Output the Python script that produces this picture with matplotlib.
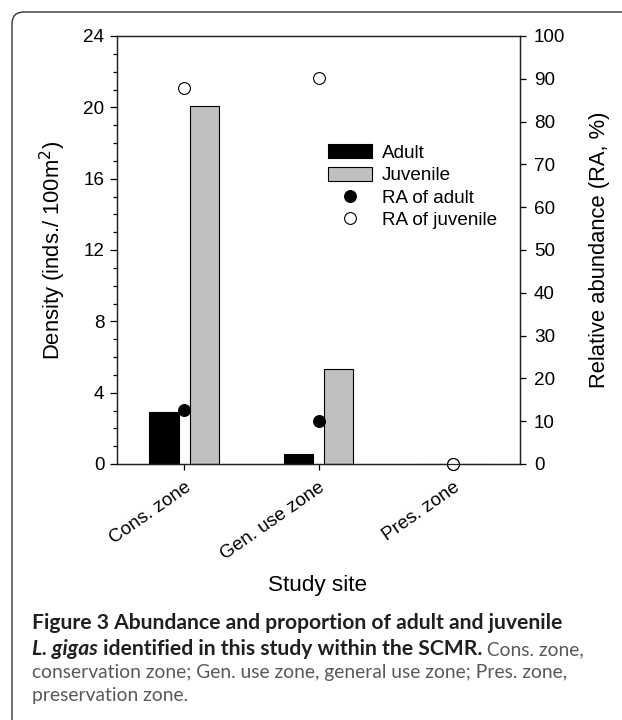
import numpy as np
import matplotlib
matplotlib.use('Agg')
import matplotlib.pyplot as plt
from matplotlib.patches import FancyBboxPatch, Patch
from matplotlib.lines import Line2D
from matplotlib.transforms import IdentityTransform

plt.rcParams['font.family'] = ['Liberation Sans', 'DejaVu Sans']

# data
sites = ['Cons. zone', 'Gen. use zone', 'Pres. zone']
adult_density = [2.9, 0.58, 0.0]
juvenile_density = [20.1, 5.3, 0.0]
ra_adult = [12.6, 10.1, 0.0]
ra_juvenile = [87.8, 90.3, 0.0]

W, H = 622, 720
fig = plt.figure(figsize=(W / 100, H / 100), dpi=100)

# axes box in pixels: x 117..520, y 36..464 (from top)
ax = fig.add_axes([117 / W, 1 - 464 / H, (520 - 117) / W, (464 - 36) / H])
ax2 = ax.twinx()

x = np.arange(len(sites))
bw = 0.22
ax.bar(x - 0.15, adult_density, bw, color='black', edgecolor='black', lw=0.8, label='Adult')
ax.bar(x + 0.15, juvenile_density, bw, color='#c0c0c0', edgecolor='black', lw=0.8, label='Juvenile')

ax2.plot(x, ra_adult, 'o', ms=8.5, mfc='black', mec='black', mew=0.8, clip_on=False, label='RA of adult')
ax2.plot(x, ra_juvenile, 'o', ms=8.5, mfc='white', mec='black', mew=0.8, clip_on=False, label='RA of juvenile')

fs = 13.6
ax.set_xlim(-0.5, 2.5)
ax.set_ylim(0, 24)
ax2.set_ylim(0, 100)
ax.set_yticks(np.arange(0, 25, 4))
ax.set_yticks(np.arange(0, 25, 1), minor=True)
ax2.set_yticks(np.arange(0, 101, 10))
ax.set_xticks(x)
ax.set_xticklabels(sites, rotation=35, ha='right', rotation_mode='anchor', fontsize=fs)

ax.tick_params(axis='y', which='major', direction='out', length=5, width=0.9, labelsize=fs, pad=4)
ax.tick_params(axis='y', which='minor', direction='out', length=3, width=0.9)
ax.tick_params(axis='x', which='major', direction='out', length=4.5, width=0.9, pad=6)
ax2.tick_params(axis='y', direction='out', length=4, width=0.9, labelsize=fs, pad=6)
for a in (ax, ax2):
    for s in a.spines.values():
        s.set_linewidth(0.9)
        s.set_color('#222222')

ax.set_ylabel('Density (inds./ 100m$^2$)', fontsize=15.8, labelpad=11)
ax2.set_ylabel('Relative abundance (RA, %)', fontsize=15.8, labelpad=17)
fig.text(318 / W, 1 - 585 / H, 'Study site', fontsize=16.2, ha='center', va='center')

handles = [Patch(facecolor='black', edgecolor='black', lw=0.8),
           Patch(facecolor='#c0c0c0', edgecolor='black', lw=0.8),
           Line2D([], [], ls='', marker='o', ms=8.5, mfc='black', mec='black', mew=0.8),
           Line2D([], [], ls='', marker='o', ms=8.5, mfc='white', mec='black', mew=0.8)]
labels = ['Adult', 'Juvenile', 'RA of adult', 'RA of juvenile']
ax2.legend(handles, labels, loc='upper left', bbox_to_anchor=(328 / W, 1 - 144 / H),
           bbox_transform=fig.transFigure, frameon=False, fontsize=fs, borderpad=0,
           handlelength=2.35, handleheight=0.8, handletextpad=0.5, labelspacing=0.25,
           borderaxespad=0)

# rounded frame open to the right and bottom
frame = FancyBboxPatch((12, -30), 700, H - 12 + 30, boxstyle='round,pad=0,rounding_size=12',
                       transform=IdentityTransform(), fill=False, edgecolor='#333333', lw=1.0)
fig.add_artist(frame)

# caption, pieced together
cap = ['Lato', 'DejaVu Sans']
dark = '#231f20'
grey = '#58595b'
bs, rs = 15.2, 13.9
fig.text(32 / W, 1 - 629 / H, 'Figure 3 Abundance and proportion of adult and juvenile',
         family=cap, fontsize=bs, weight='bold', color=dark, va='baseline')
fig.canvas.draw()
r = fig.canvas.get_renderer()
parts = [('L. gigas', 'bold', 'italic', dark, bs),
         (' identified in this study within the SCMR.', 'bold', 'normal', dark, bs),
         (' Cons. zone,', 'normal', 'normal', grey, rs)]
xp = 32
for txt, wt, st, col, sz in parts:
    t = fig.text(xp / W, 1 - 655 / H, txt, family=cap, fontsize=sz, weight=wt, style=st,
                 color=col, va='baseline')
    xp = t.get_window_extent(r).x1
fig.text(32 / W, 1 - 678 / H, 'conservation zone; Gen. use zone, general use zone; Pres. zone,',
         family=cap, fontsize=rs, color=grey, va='baseline')
fig.text(32 / W, 1 - 701 / H, 'preservation zone.', family=cap, fontsize=rs, color=grey, va='baseline')

fig.savefig('out.png', dpi=100)
